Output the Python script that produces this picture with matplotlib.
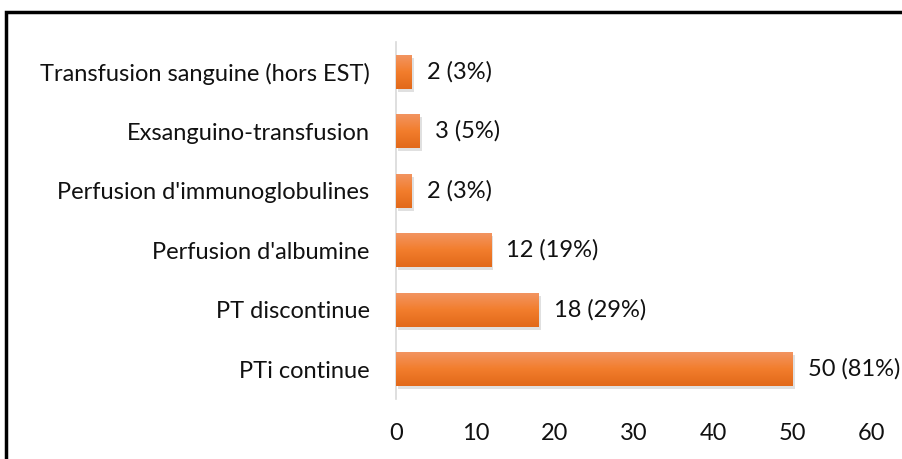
import matplotlib.pyplot as plt
import numpy as np
from matplotlib.patches import Rectangle
from matplotlib.colors import LinearSegmentedColormap

plt.rcParams['font.family'] = ['Lato', 'DejaVu Sans']

# data (top to bottom as shown)
categories = ['Transfusion sanguine (hors EST)', 'Exsanguino-transfusion',
              "Perfusion d'immunoglobulines", "Perfusion d'albumine",
              'PT discontinue', 'PTi continue']
counts = [2, 3, 2, 12, 18, 50]
percents = [3, 5, 3, 19, 29, 81]

fig = plt.figure(figsize=(9.03, 4.59), dpi=100)
ax = fig.add_axes([396 / 903, 1 - 399 / 459, (872 - 396) / 903, (399 - 42) / 459])

y = np.arange(len(categories))[::-1]
grad = LinearSegmentedColormap.from_list('g', ['#e2691a', '#f27d2c', '#f29460'])
bars = ax.barh(y, counts, height=0.57, color='#f07f30', zorder=2)
for b in bars:
    x0, y0, w, h = b.get_x(), b.get_y(), b.get_width(), b.get_height()
    # soft shadow
    ax.add_patch(Rectangle((x0 + 0.25, y0 - 0.05), w, h, color='#000000', alpha=0.12, zorder=1, lw=0))
    im = ax.imshow(np.linspace(0, 1, 50).reshape(-1, 1), cmap=grad, aspect='auto',
                   extent=(x0, x0 + w, y0, y0 + h), origin='lower', zorder=3)
    im.set_clip_path(b)

for yi, c, p in zip(y, counts, percents):
    ax.text(c + 1.9, yi, f'{c} ({p}%)', va='center', ha='left', fontsize=17, color='#111111')

ax.set_xlim(0, 60)
ax.set_ylim(-0.5, 5.5)
ax.set_yticks(y)
ax.set_yticklabels(categories, fontsize=17, color='#111111')
ax.set_xticks(range(0, 61, 10))
ax.tick_params(axis='x', labelsize=17, length=0, pad=17, colors='#111111')
ax.tick_params(axis='y', length=0, pad=19)
for s in ['top', 'right', 'bottom']:
    ax.spines[s].set_visible(False)
ax.spines['left'].set_color('#d9d9d9')
ax.spines['left'].set_linewidth(1.2)

# outer frame
fig.add_artist(Rectangle((6 / 903, -0.1), 1.2, 1 - 12 / 459 + 0.1, transform=fig.transFigure,
                         fill=False, edgecolor='black', lw=2.5, clip_on=False))

fig.savefig('out.png', dpi=100)
